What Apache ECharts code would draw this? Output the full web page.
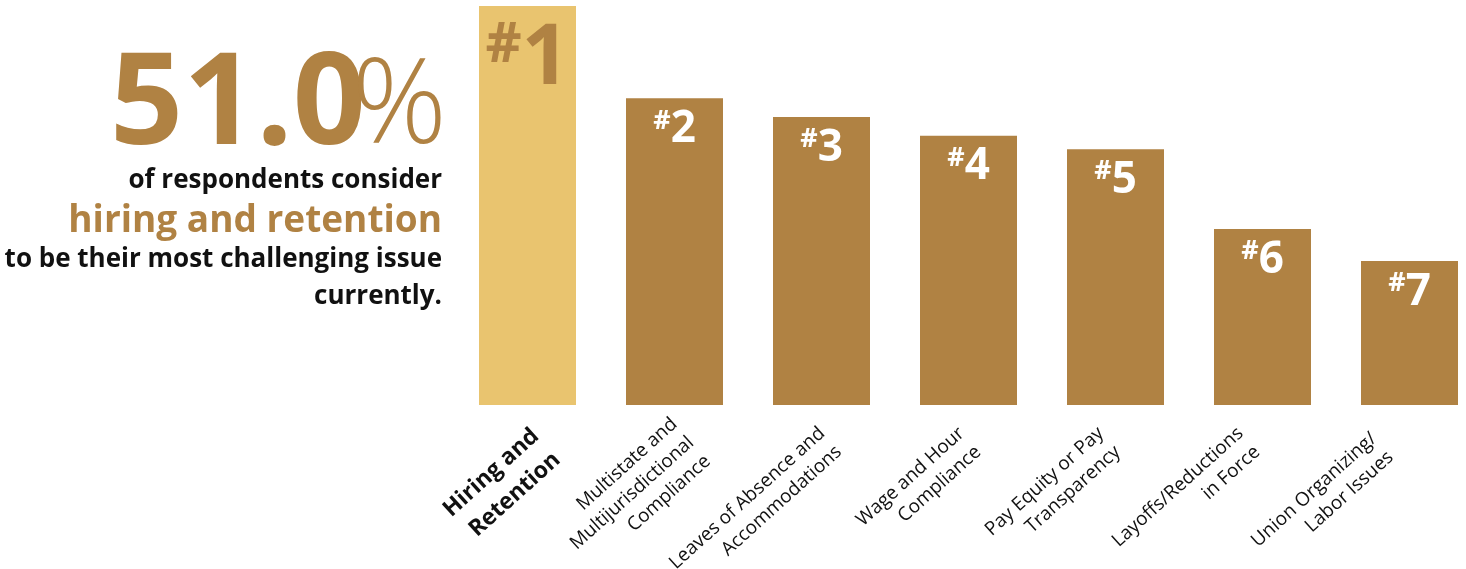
<!DOCTYPE html>
<html>
<head>
<meta charset="utf-8">
<script src="https://cdn.jsdelivr.net/npm/echarts@6/dist/echarts.min.js"></script>
<style>
  html, body { margin: 0; padding: 0; background: #fff; }
  #chart { width: 1466px; height: 569px; }
</style>
</head>
<body>
<div id="chart"></div>
<script>
// Data
const categories = [
  'Hiring and\nRetention',
  'Multistate and\nMultijurisdictional\nCompliance',
  'Leaves of Absence and\nAccommodations',
  'Wage and Hour\nCompliance',
  'Pay Equity or Pay\nTransparency',
  'Layoffs/Reductions\nin Force',
  'Union Organizing/\nLabor Issues'
];
const shares = [51.0, 39.2, 36.8, 34.4, 32.7, 22.5, 18.4];
const ranks = ['1', '2', '3', '4', '5', '6', '7'];

const gold = '#b08243';
const lightGold = '#e9c46f';
const font = 'Open Sans';

function initChart() {
  const chart = echarts.init(document.getElementById('chart'));

  // bars: first one highlighted, rank label inside the top
  const barData = shares.map((v, i) => {
    const item = { value: v, itemStyle: { color: i === 0 ? lightGold : gold } };
    if (i === 0) {
      item.label = {
        distance: 12,
        rich: {
          h: { fontFamily: font, fontWeight: 700, fontSize: 56, lineHeight: 46, color: gold, verticalAlign: 'top' },
          n: { fontFamily: font, fontWeight: 700, fontSize: 84, lineHeight: 84, color: gold }
        }
      };
    }
    return item;
  });

  // axis labels: first one bold; the outer two nudged a little to the left
  const labelData = categories.map((c, i) => {
    if (i === 0) {
      return { value: c, textStyle: { fontWeight: 700, fontSize: 23, lineHeight: 32, padding: [0, 7, 14, 0] } };
    }
    if (i === categories.length - 1) {
      return { value: c, textStyle: { padding: [0, 8, 16, 0] } };
    }
    return c;
  });

  const option = {
    backgroundColor: '#fff',
    animation: false,
    grid: [
      { left: 454, width: 1029, top: 6, height: 399, outerBoundsMode: 'none' },
      { left: 482, width: 976, top: 6, height: 399, outerBoundsMode: 'none' }
    ],
    xAxis: [
      {
        type: 'category', gridIndex: 0, data: categories,
        axisLine: { show: false }, axisTick: { show: false }, axisLabel: { show: false }
      },
      {
        type: 'category', gridIndex: 1, data: labelData,
        axisLine: { show: false }, axisTick: { show: false },
        axisLabel: {
          interval: 0, rotate: 42, margin: 35,
          fontFamily: font, fontSize: 19, lineHeight: 25, color: '#111'
        }
      }
    ],
    yAxis: [
      { type: 'value', gridIndex: 0, min: 0, max: 51, show: false },
      { type: 'value', gridIndex: 1, min: 0, max: 51, show: false }
    ],
    series: [
      {
        type: 'bar',
        xAxisIndex: 0, yAxisIndex: 0,
        barWidth: 97,
        data: barData,
        label: {
          show: true,
          position: 'insideTop',
          distance: 9,
          formatter: p => '{h|#}{n|' + ranks[p.dataIndex] + '}',
          rich: {
            h: { fontFamily: font, fontWeight: 700, fontSize: 27, lineHeight: 27, color: '#fff', verticalAlign: 'top' },
            n: { fontFamily: font, fontWeight: 700, fontSize: 44, lineHeight: 44, color: '#fff' }
          }
        }
      }
    ],
    graphic: [
      {
        type: 'text', right: 1100, top: 44,
        style: { text: '51.0', font: '700 128px "Open Sans"', fill: gold }
      },
      {
        type: 'text', right: 1019, top: 50,
        style: { text: '%', font: '300 118px "Open Sans"', fill: gold }
      },
      {
        type: 'text', right: 1024, top: 168,
        style: { text: 'of respondents consider', font: '700 26px "Open Sans"', fill: '#111' }
      },
      {
        type: 'text', right: 1024, top: 203,
        style: { text: 'hiring and retention', font: '700 37px "Open Sans"', fill: gold }
      },
      {
        type: 'text', right: 1024, top: 247,
        style: { text: 'to be their most challenging issue', font: '700 26px "Open Sans"', fill: '#111' }
      },
      {
        type: 'text', right: 1024, top: 284,
        style: { text: 'currently.', font: '700 26px "Open Sans"', fill: '#111' }
      }
    ]
  };

  chart.setOption(option);
}

document.addEventListener('DOMContentLoaded', initChart);
</script>
</body>
</html>
